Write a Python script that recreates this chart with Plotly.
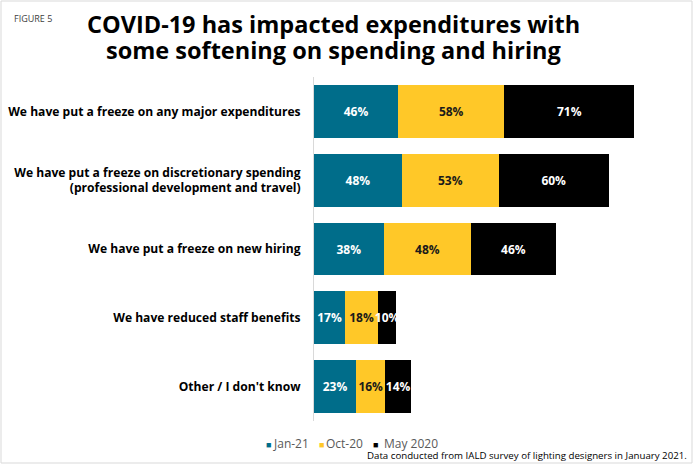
import plotly.graph_objects as go

categories = [
    "We have put a freeze on any major expenditures",
    "We have put a freeze on discretionary spending<br>(professional development and travel)",
    "We have put a freeze on new hiring",
    "We have reduced staff benefits",
    "Other / I don't know",
]
series_names = ["Jan-21", "Oct-20", "May 2020"]
jan21 = [46, 48, 38, 17, 23]
oct20 = [58, 53, 48, 18, 16]
may2020 = [71, 60, 46, 10, 14]
series_values = [jan21, oct20, may2020]
colors = ["#006D8A", "#FFC828", "#000000"]
text_colors = ["#FFFFFF", "#1A1A1A", "#FFFFFF"]

title_lines = ["COVID-19 has impacted expenditures with",
               "some softening on spending and hiring"]

W, H = 700, 467
ML, MR, MT, MB = 314, 20, 77, 46
PW, PH = W - ML - MR, H - MT - MB

FONT = "Open Sans"

fig = go.Figure()
for name, vals, col, tcol in zip(series_names, series_values, colors, text_colors):
    fig.add_trace(go.Bar(
        y=categories, x=vals, name=name, orientation="h",
        marker=dict(color=col, line=dict(width=0)),
        text=[f"{v}%" for v in vals], textposition="inside",
        insidetextanchor="middle", textangle=0,
        textfont=dict(family=FONT, size=12, color=tcol, weight="bold"),
        showlegend=False,
    ))


def px_x(px):
    return (px - ML) / PW


def px_y(py):
    return (H - MB - py) / PH


annotations = []
for line, cy in zip(title_lines, [24, 50]):
    annotations.append(dict(
        text=f"<b>{line}</b>", xref="paper", yref="paper", x=px_x(333), y=px_y(cy),
        xanchor="center", yanchor="middle", showarrow=False,
        font=dict(family=FONT, size=23.5, color="#000000")))

annotations.append(dict(
    text="FIGURE 5", xref="paper", yref="paper", x=px_x(12), y=px_y(19),
    xanchor="left", yanchor="middle", showarrow=False,
    font=dict(family=FONT, size=9, color="#404040")))

# legend entries built from series names/colours
legend_x = [264, 317, 371]
legend_text_offset = [7, 7, 11]
for name, col, lx, off in zip(series_names, colors, legend_x, legend_text_offset):
    annotations.append(dict(
        text="■", xref="paper", yref="paper", x=px_x(lx), y=px_y(445),
        xanchor="left", yanchor="middle", showarrow=False,
        font=dict(family=FONT, size=9, color=col)))
    annotations.append(dict(
        text=name, xref="paper", yref="paper", x=px_x(lx + off), y=px_y(443),
        xanchor="left", yanchor="middle", showarrow=False,
        font=dict(family=FONT, size=12, color="#595959")))

annotations.append(dict(
    text="Data conducted from IALD survey of lighting designers in January 2021.",
    xref="paper", yref="paper", x=px_x(689), y=px_y(455),
    xanchor="right", yanchor="middle", showarrow=False,
    font=dict(family=FONT, size=9.7, color="#000000")))

fig.update_layout(
    width=W, height=H,
    margin=dict(l=ML, r=MR, t=MT, b=MB),
    barmode="stack", bargap=0.23,
    plot_bgcolor="white", paper_bgcolor="white",
    font=dict(family=FONT, color="#000000"),
    xaxis=dict(range=[0, 200], visible=False, fixedrange=True, automargin=False),
    yaxis=dict(
        autorange="reversed", showline=True, linecolor="#D9D9D9", linewidth=1,
        ticks="", ticklen=0, showgrid=False, automargin=False,
        tickfont=dict(family=FONT, size=12.1, color="#000000", weight="bold"),
        ticklabelstandoff=10,
    ),
    uniformtext=dict(mode="show", minsize=12),
    shapes=[dict(
        type="rect", xref="paper", yref="paper",
        x0=px_x(1), x1=px_x(692), y0=px_y(463), y1=px_y(1),
        line=dict(color="#D9D9D9", width=1), fillcolor="rgba(0,0,0,0)", layer="below",
    )],
    annotations=annotations,
)

fig.write_html("out.html")
